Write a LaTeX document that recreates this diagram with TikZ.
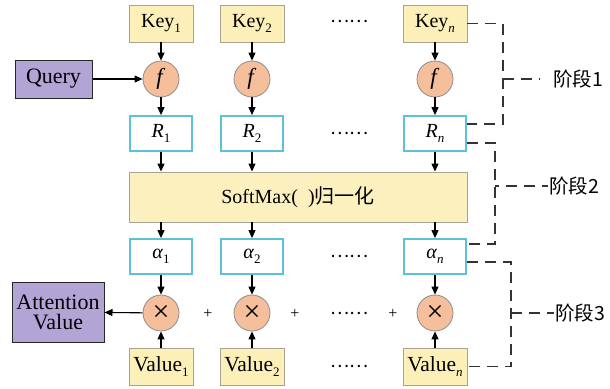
\documentclass[tikz,border=0pt]{standalone}
\usepackage{fontspec}
\setmainfont{Liberation Serif}
\newfontfamily\serif{Liberation Serif}
\newfontfamily\cjk{Noto Sans CJK SC}
\usetikzlibrary{arrows.meta,calc}
\newcommand\lowsub[1]{\raisebox{-5pt}{\fontsize{13}{13}\selectfont #1}}
\definecolor{keyfill}{HTML}{FCF0B8}
\definecolor{keydraw}{HTML}{A8A290}
\definecolor{circfill}{HTML}{F6BF9B}
\definecolor{circdraw}{HTML}{8C8C8C}
\definecolor{qfill}{HTML}{B2A5D6}
\definecolor{teal}{HTML}{5CC3D6}
\definecolor{smfill}{HTML}{FCF0BE}
\tikzset{
  base/.style={font=\serif\fontsize{20}{22}\selectfont, inner sep=0pt},
  keybox/.style={base, rectangle, draw=keydraw, fill=keyfill, line width=0.9pt, minimum width=64pt, minimum height=37pt},
  valbox/.style={keybox, font=\serif\fontsize{21.5}{23}\selectfont},
  rbox/.style={base, rectangle, draw=teal, fill=white, line width=1.8pt, minimum width=62pt, minimum height=35pt},
  circ/.style={base, circle, draw=circdraw, fill=circfill, line width=0.8pt, minimum size=36pt},
  fcirc/.style={circ, font=\serif\fontsize{23}{23}\selectfont},
  xcirc/.style={circ, font=\serif\fontsize{30}{30}\selectfont},
  qbox/.style={base, rectangle, draw=black!85, fill=qfill, line width=1pt, font=\serif\fontsize{22}{22}\selectfont},
  arr/.style={-{Triangle[length=8pt,width=7pt]}, line width=1.1pt, black},
  stage/.style={draw=black!80, line width=1.2pt, dash pattern=on 11pt off 7pt},
  dots/.style={font=\cjk\fontsize{18}{20}\selectfont, inner sep=0pt},
  plus/.style={font=\serif\fontsize{16}{16}\selectfont, inner sep=0pt},
  lab/.style={font=\cjk\fontsize{19.5}{21}\selectfont, inner sep=0pt, anchor=west}
}
\begin{document}
\begin{tikzpicture}[x=1pt,y=-1pt]
\useasboundingbox (0,0) rectangle (610,388);
% row 1: keys
\node[keybox] (k1) at (161,23.5) {Key\lowsub{1}};
\node[keybox] (k2) at (252,23.5) {Key\lowsub{2}};
\node[keybox] (kn) at (435,23.5) {Key\lowsub{\textit{n}}};
\node[dots] (d1) at (349.5,21) {……};
% f circles
\node[fcirc] (f1) at (161,79) {\textit{f}};
\node[fcirc] (f2) at (252,79) {\textit{f}};
\node[fcirc] (fn) at (435,79) {\textit{f}};
\node[qbox, minimum width=77pt, minimum height=38pt] (q) at (53.5,79) {Query};
% R boxes
\node[rbox] (r1) at (161,133.5) {\textit{R}\lowsub{1}};
\node[rbox] (r2) at (252,133.5) {\textit{R}\lowsub{2}};
\node[rbox] (rn) at (435,133.5) {\textit{R}\lowsub{\textit{n}}};
\node[dots] (d2) at (349.5,133.5) {……};
% softmax
\node[base, rectangle, draw=keydraw, fill=smfill, line width=0.9pt, minimum width=338pt, minimum height=50pt] (sm) at (298,197) {SoftMax(\,\,\,)\cjk 归一化};
% alpha boxes
\node[rbox] (a1) at (161,256.5) {\textit{α}\lowsub{1}};
\node[rbox] (a2) at (252,256.5) {\textit{α}\lowsub{2}};
\node[rbox] (an) at (435,256.5) {\textit{α}\lowsub{\textit{n}}};
\node[dots] (d3) at (349.5,256.5) {……};
% multiply circles
\node[xcirc] (m1) at (161,313) {×};
\node[xcirc] (m2) at (252,313) {×};
\node[xcirc] (mn) at (435,313) {×};
\node[dots] (d4) at (349.5,313) {……};
\node[plus] (p1) at (208,314) {+};
\node[plus] (p2) at (295,314) {+};
\node[plus] (p3) at (393,314) {+};
\node[qbox, minimum width=92pt, minimum height=60pt, align=center] (att) at (58,312) {Attention\\[-2pt]Value};
% values
\node[valbox] (v1) at (161,366.5) {Value\lowsub{1}};
\node[valbox] (v2) at (252,366.5) {Value\lowsub{2}};
\node[valbox] (vn) at (435,366.5) {Value\lowsub{\textit{n}}};
\node[dots] (d5) at (349.5,366.5) {……};
% arrows
\foreach \c in {1,2,n}{
  \draw[arr] (k\c) -- (f\c);
  \draw[arr] (f\c) -- (r\c);
  \draw[arr] (r\c.south) -- (r\c.south |- sm.north);
  \draw[arr] (a\c.north |- sm.south) -- (a\c.north);
  \draw[arr] (a\c) -- (m\c);
  \draw[arr] (v\c) -- (m\c);
}
\draw[arr] (q) -- (f1);
\draw[arr] (m1) -- (att);
% stage brackets
\coordinate (s1) at (503,79);
\coordinate (s2) at (495,186);
\coordinate (s3) at (511,313);
\draw[stage] (kn.east) -| (s1) |- ([yshift=9.5pt]rn.east);
\draw[stage] ([yshift=-9.5pt]rn.east) -| (s2) |- ([yshift=12.5pt]an.east);
\draw[stage] ([yshift=-5.5pt]an.east) -| (s3) |- (vn.east);
\node[lab] (l1) at (553,79) {阶段1};
\node[lab] (l2) at (549,186) {阶段2};
\node[lab] (l3) at (555,313) {阶段3};
\draw[stage] (s1) -- ([xshift=-13pt]l1.west);
\draw[stage, dash phase=-11pt] (s2) -- ([xshift=-1pt]l2.west);
\draw[stage, dash phase=0pt] (s3) -- ([xshift=-1pt]l3.west);
\end{tikzpicture}
\end{document}
